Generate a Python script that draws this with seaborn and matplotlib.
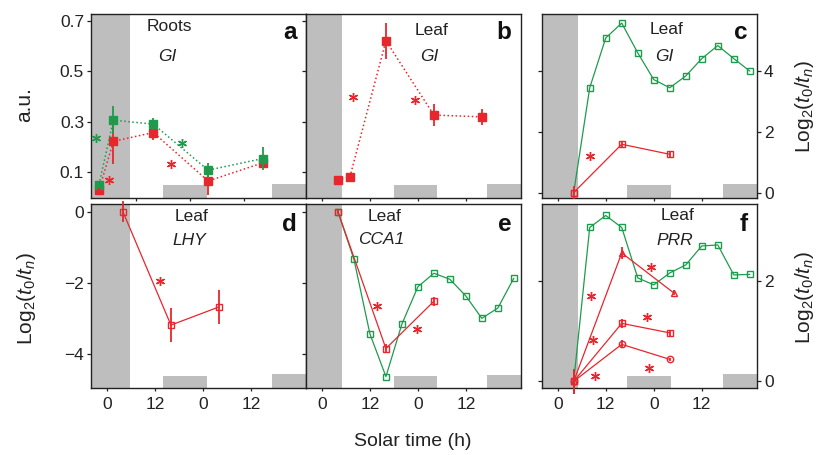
import matplotlib
matplotlib.use("Agg")
import matplotlib.pyplot as plt
import seaborn as sns

sns.set_style("ticks")
plt.rcParams['font.family'] = ['Liberation Sans', 'DejaVu Sans']
plt.rcParams['mathtext.fontset'] = 'custom'
plt.rcParams['mathtext.rm'] = 'Liberation Sans'
plt.rcParams['mathtext.it'] = 'Liberation Sans:italic'

RED = '#e8262d'
GREEN = '#1f9b4d'
GRAY = '#bebebe'
INK = '#222222'

# ---- data (solar time in h) ----
# a: roots GI, a.u.
a_time = [-2, 1.6, 11.6, 25.3, 39]
a_green = [0.052, 0.307, 0.291, 0.109, 0.155]
a_green_err = [0.015, 0.055, 0.025, 0.03, 0.045]
a_red = [0.03, 0.223, 0.258, 0.066, 0.138]
a_red_err = [0.01, 0.09, 0.028, 0.055, 0.012]
a_star_green_x = [-2.8, 18.8]
a_star_green_y = [0.235, 0.215]
a_star_red_x = [0.5, 15.9]
a_star_red_y = [0.07, 0.132]

# b: leaf GI, a.u.
b_time = [4, 7, 16, 28, 40]
b_red = [0.07, 0.083, 0.621, 0.327, 0.32]
b_red_err = [0.008, 0.012, 0.071, 0.044, 0.032]
b_star_x = [7.75, 23.3]
b_star_y = [0.399, 0.385]

# 4-hourly sampling for the green series
t4 = [4, 8, 12, 16, 20, 24, 28, 32, 36, 40, 44, 48]
t_red = [4, 16, 28]

# c: leaf GI, log2(t0/tn)
c_green = [0, 3.45, 5.09, 5.58, 4.6, 3.72, 3.45, 3.84, 4.41, 4.84, 4.41, 4.0]
c_red = [0, 1.59, 1.26]
c_red_err = [0.2, 0.1, 0.1]
c_star_x = [8]
c_star_y = [1.19]

# d: leaf LHY
d_red = [0, -3.19, -2.68]
d_red_err = [0.3, 0.47, 0.49]
d_star_x = [13.25]
d_star_y = [-1.95]

# e: leaf CCA1
e_green = [0, -1.34, -3.44, -4.64, -3.16, -2.11, -1.73, -1.90, -2.37, -3.0, -2.71, -1.87]
e_red = [0, -3.85, -2.52]
e_red_err = [0.05, 0.13, 0.13]
e_star_x = [13.75, 23.75]
e_star_y = [-2.65, -3.3]

# f: leaf PRR
f_green = [0, 3.08, 3.32, 3.08, 2.07, 1.93, 2.17, 2.33, 2.71, 2.73, 2.13, 2.14]
f_tri_time = [4, 16, 29]
f_tri = [0, 2.57, 1.77]
f_tri_err = [0.25, 0.12, 0.05]
f_sq = [0, 1.16, 0.97]
f_sq_err = [0.25, 0.09, 0.06]
f_circ = [0, 0.74, 0.44]
f_circ_err = [0.25, 0.08, 0.03]
f_star_x = [8.25, 8.8, 9.25, 23.2, 22.4, 22.8]
f_star_y = [1.71, 0.83, 0.1, 2.29, 1.28, 0.27]

# night shading: (start, end, height as axes fraction)
night_ad = [(-4, 5.8, 1.0), (14.1, 25, 0.069), (41.25, 50, 0.075)]
night_be = [(-4, 5.0, 1.0), (17.9, 28.75, 0.067), (41.4, 50, 0.072)]
night_cf = [(-4, 5.15, 1.0), (17.4, 28.25, 0.068), (41.4, 50, 0.075)]

W, H = 818, 455
fig = plt.figure(figsize=(W / 100, H / 100), dpi=100)


def rect(x0, x1, y0, y1):
    return [x0 / W, 1 - y1 / H, (x1 - x0) / W, (y1 - y0) / H]


top, bot = (14, 197.7), (204, 388.3)
ax_a = fig.add_axes(rect(91, 306, *top))
ax_b = fig.add_axes(rect(306, 521, *top))
ax_c = fig.add_axes(rect(541.7, 757, *top))
ax_d = fig.add_axes(rect(91, 306, *bot))
ax_e = fig.add_axes(rect(306, 521, *bot))
ax_f = fig.add_axes(rect(541.7, 757, *bot))


def shade(ax, spans):
    for x0, x1, h in spans:
        ax.axvspan(x0, x1, ymin=0, ymax=h, color=GRAY, lw=0, zorder=0)


def series(ax, x, y, color, marker='s', filled=False, ls='-', err=None, ms=4.6):
    sns.lineplot(x=x, y=y, ax=ax, color=color, sort=False, errorbar=None,
                 marker=marker, ms=ms, mew=1.0, mec=color,
                 mfc=color if filled else 'none', lw=0.9 if ls == '-' else 1.1,
                 linestyle=ls, zorder=3)
    if err is not None:
        ax.errorbar(x, y, yerr=err, fmt='none', ecolor=color, elinewidth=1.3,
                    capsize=0, zorder=4, clip_on=False)


def stars(ax, x, y, color):
    ax.plot(x, y, ls='none', marker=(6, 2, 0), ms=6.5, mew=1.0, color=color, zorder=5)


def frame(ax, ylim, yticks, left_labels=False, right=False, bottom_labels=True, xticks=(0, 12, 24, 36)):
    ax.set_xlim(-4, 49.8)
    ax.set_ylim(*ylim)
    ax.set_xticks(list(xticks))
    ax.set_xticklabels(['0', '12', '0', '12'][:len(xticks)])
    ax.set_yticks(yticks)
    for s in ax.spines.values():
        s.set_visible(True)
        s.set_linewidth(1.0)
        s.set_color(INK)
    ax.tick_params(axis='x', direction='out', length=2.5, width=0.9, color=INK,
                   labelsize=12.5, labelcolor=INK, pad=4, labelbottom=bottom_labels)
    ax.tick_params(axis='y', direction='out', length=3, width=0.9, color=INK,
                   labelsize=12.5, labelcolor=INK, pad=2, left=True,
                   labelleft=left_labels, right=right, labelright=right)
    ax.set_xlabel('')
    ax.set_ylabel('')


def tags(ax, letter, tissue, gene, tx, ty, gx, gy, ly):
    ax.text(tx, ty, tissue, transform=ax.transAxes, ha='center', va='center', fontsize=12.5, color=INK)
    ax.text(gx, gy, gene, transform=ax.transAxes, ha='center', va='center', fontsize=12.5,
            style='italic', color=INK)
    ax.text(0.955, ly, letter, transform=ax.transAxes, ha='right', va='center', fontsize=17.5,
            fontweight='bold', color='#111111')


# a
shade(ax_a, night_ad)
series(ax_a, a_time, a_red, RED, filled=True, ls=':', err=a_red_err, ms=5.5)
series(ax_a, a_time, a_green, GREEN, filled=True, ls=':', err=a_green_err, ms=5.5)
stars(ax_a, a_star_green_x, a_star_green_y, GREEN)
stars(ax_a, a_star_red_x, a_star_red_y, RED)
frame(ax_a, (0, 0.727), [0.1, 0.3, 0.5, 0.7], left_labels=True, bottom_labels=False,
      xticks=(7.25, 20.8, 34.3))
tags(ax_a, 'a', 'Roots', 'GI', 0.363, 0.931, 0.356, 0.768, 0.897)
ax_a.set_yticklabels(['0.1', '0.3', '0.5', '0.7'])

# b
shade(ax_b, night_be)
series(ax_b, b_time, b_red, RED, filled=True, ls=':', err=b_red_err, ms=5.5)
stars(ax_b, b_star_x, b_star_y, RED)
frame(ax_b, (0, 0.727), [0.1, 0.3, 0.5, 0.7], bottom_labels=False)
tags(ax_b, 'b', 'Leaf', 'GI', 0.583, 0.909, 0.575, 0.771, 0.897)

# c
shade(ax_c, night_cf)
series(ax_c, t4, c_green, GREEN)
series(ax_c, t_red, c_red, RED, err=c_red_err)
stars(ax_c, c_star_x, c_star_y, RED)
frame(ax_c, (-0.17, 5.88), [0, 2, 4], right=True, bottom_labels=False)
tags(ax_c, 'c', 'Leaf', 'GI', 0.58, 0.913, 0.57, 0.771, 0.897)

# d
shade(ax_d, night_ad)
series(ax_d, t_red, d_red, RED, err=d_red_err)
stars(ax_d, d_star_x, d_star_y, RED)
frame(ax_d, (-4.97, 0.22), [0, -2, -4], left_labels=True)
tags(ax_d, 'd', 'Leaf', 'LHY', 0.47, 0.931, 0.459, 0.80, 0.89)

# e
shade(ax_e, night_be)
series(ax_e, t4, e_green, GREEN)
series(ax_e, t_red, e_red, RED, err=e_red_err)
stars(ax_e, e_star_x, e_star_y, RED)
frame(ax_e, (-4.97, 0.22), [0, -2, -4])
tags(ax_e, 'e', 'Leaf', 'CCA1', 0.367, 0.931, 0.348, 0.805, 0.89)

# f
shade(ax_f, night_cf)
series(ax_f, t4, f_green, GREEN)
series(ax_f, f_tri_time, f_tri, RED, marker='^', err=f_tri_err)
series(ax_f, t_red, f_sq, RED, marker='s', err=f_sq_err)
series(ax_f, t_red, f_circ, RED, marker='o', err=f_circ_err)
stars(ax_f, f_star_x, f_star_y, RED)
frame(ax_f, (-0.14, 3.55), [0, 2], right=True)
tags(ax_f, 'f', 'Leaf', 'PRR', 0.632, 0.935, 0.618, 0.80, 0.89)

# axis titles placed in figure pixels
log_label = r'$\mathrm{Log}_2(t_0/t_n)$'
for label, px, py in [('a.u.', 25, 105), (log_label, 26.7, 298),
                      (log_label, 805, 106), (log_label, 805, 297)]:
    fig.text(px / W, 1 - py / H, label, rotation=90, ha='center', va='center',
             fontsize=15, color=INK)

fig.text(412.5 / W, 1 - 441.7 / H, 'Solar time (h)', ha='center', va='center',
         fontsize=14, color=INK)

fig.savefig('out.png', dpi=100)
